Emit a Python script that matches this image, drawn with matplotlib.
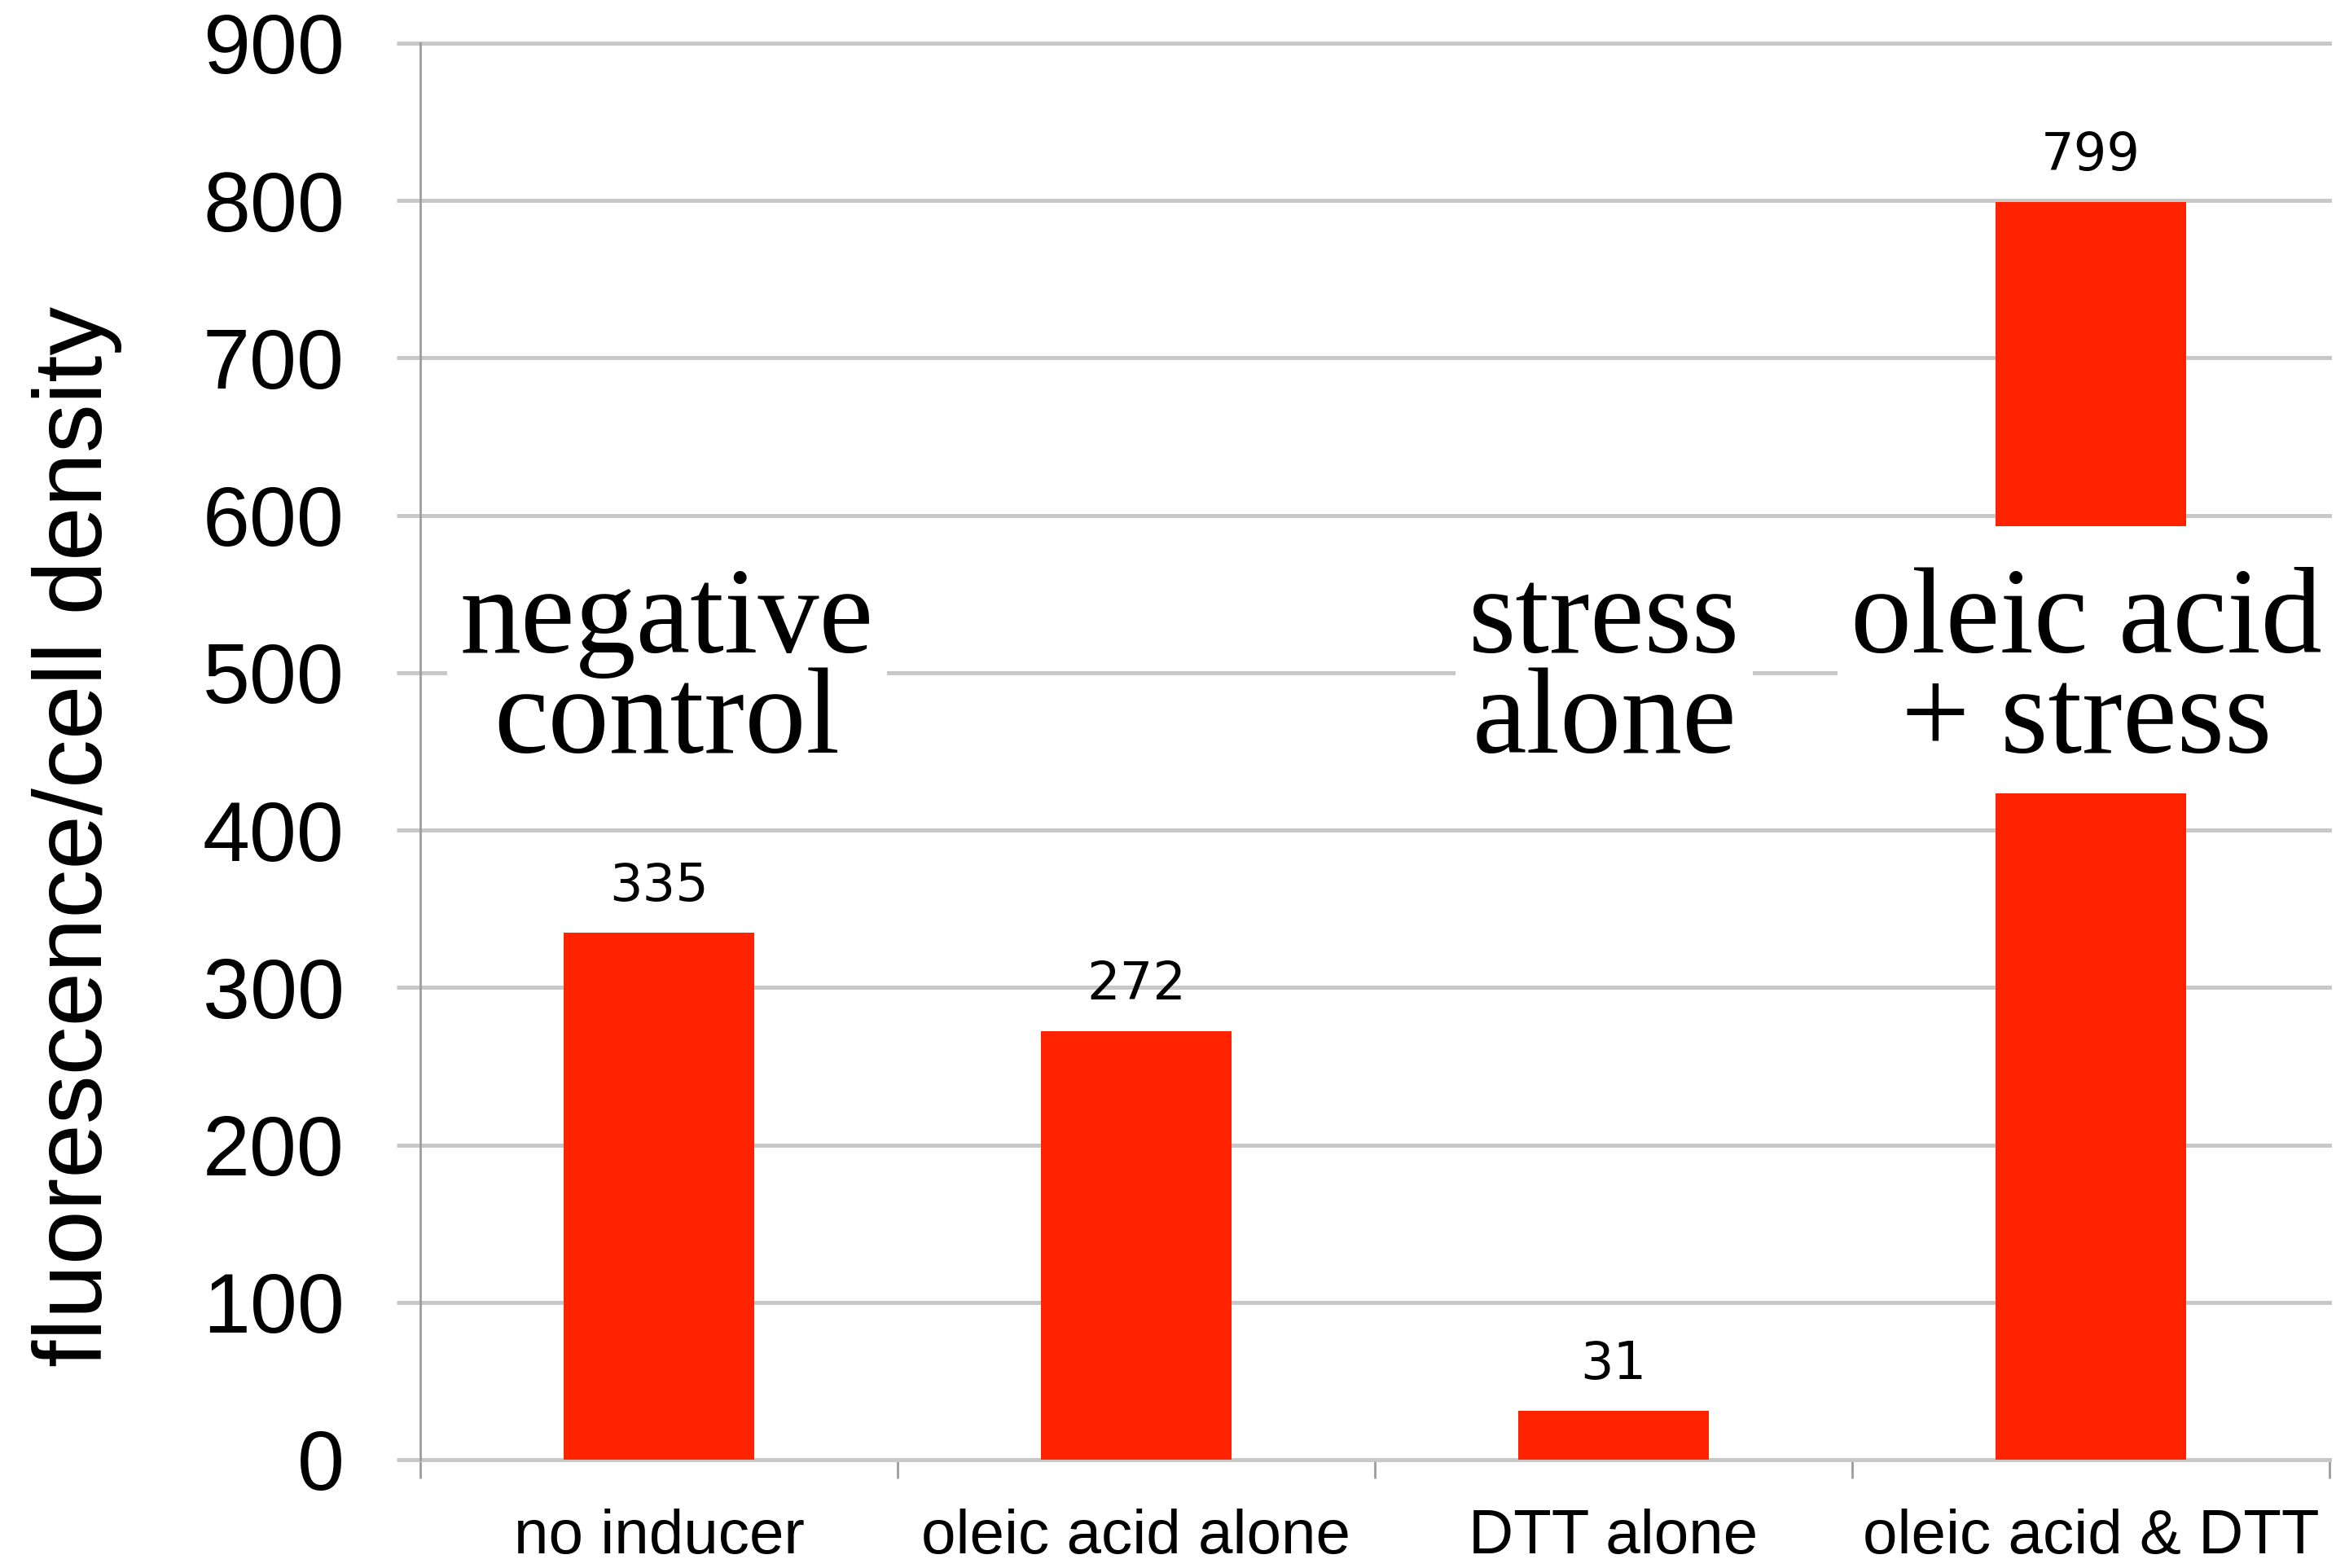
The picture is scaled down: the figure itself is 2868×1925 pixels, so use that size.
import matplotlib
matplotlib.use("Agg")
import matplotlib.pyplot as plt
from matplotlib.patches import Rectangle

# Data
categories = ["no inducer", "oleic acid alone", "DTT alone", "oleic acid & DTT"]
values = [335, 272, 31, 799]
y_ticks = [0, 100, 200, 300, 400, 500, 600, 700, 800, 900]
group_notes = ["negative\ncontrol", "stress\nalone", "oleic acid\n+ stress"]
note_x = [0.517, 2.481, 3.491]

BAR_RED = "#ff2300"
GRID = "#c8c8c8"
SPINE = "#9c9c9c"

fig = plt.figure(figsize=(28.68, 19.25), dpi=100)
ax = fig.add_axes([0.1799, 0.0691, 0.8173, 0.9034])

x = [i + 0.5 for i in range(len(categories))]
ax.bar(x, values, width=0.4, color=BAR_RED, zorder=3)

ax.set_xlim(0, len(categories))
ax.set_ylim(0, 900)

# value labels above bars
for xi, v in zip(x, values):
    ax.annotate(str(v), (xi, v), xytext=(0, 41), textcoords="offset points",
                ha="center", va="center", fontsize=46,
                family="DejaVu Sans", color="black", zorder=5)

# horizontal grid
ax.set_yticks(y_ticks)
ax.set_yticklabels([str(t) for t in y_ticks], fontsize=75, family="Liberation Sans")
ax.yaxis.grid(True, color=GRID, linewidth=3.6, zorder=1)
for gl in ax.get_ygridlines():
    gl.set_clip_on(False)
ax.tick_params(axis="y", length=21, width=3.6, color=GRID, pad=46, labelcolor="black")

# category labels and boundary ticks
ax.set_xticks(x)
ax.set_xticklabels(categories, fontsize=55, family="Liberation Sans")
ax.tick_params(axis="x", which="major", length=0, pad=43)
ax.set_xticks(range(len(categories) + 1), minor=True)
ax.tick_params(axis="x", which="minor", length=16.5, width=2, color=SPINE)
ax.set_axisbelow(True)

for side in ("top", "right", "bottom"):
    ax.spines[side].set_visible(False)
ax.spines["left"].set_color(SPINE)
ax.spines["left"].set_linewidth(2)
ax.spines["left"].set_zorder(2)

fig.text(95 / 2868, 1 - 1027 / 1925, "fluorescence/cell density", rotation=90,
         ha="center", va="center", fontsize=86, family="Liberation Sans")

# group annotations, each on a white backing box
notes = []
for xn, note in zip(note_x, group_notes):
    t = ax.text(xn, 500, note, ha="center", va="center", fontsize=108,
                family="Liberation Serif", linespacing=0.87, color="black",
                zorder=7, clip_on=False)
    notes.append(t)

fig.canvas.draw()
renderer = fig.canvas.get_renderer()
hpad, top_pad, bottom_pad = 16, 50, 18  # pixels
inv = fig.transFigure.inverted()
for t in notes:
    bb = t.get_window_extent(renderer)
    (x0, y0), (x1, y1) = inv.transform([(bb.x0 - hpad, bb.y0 - bottom_pad),
                                        (bb.x1 + hpad, bb.y1 + top_pad)])
    fig.add_artist(Rectangle((x0, y0), x1 - x0, y1 - y0, transform=fig.transFigure,
                             facecolor="white", edgecolor="none", zorder=6))
    t.remove()
    fig.add_artist(t)
    t.set_transform(ax.transData)

fig.savefig("out.png", dpi=100, facecolor="white")
